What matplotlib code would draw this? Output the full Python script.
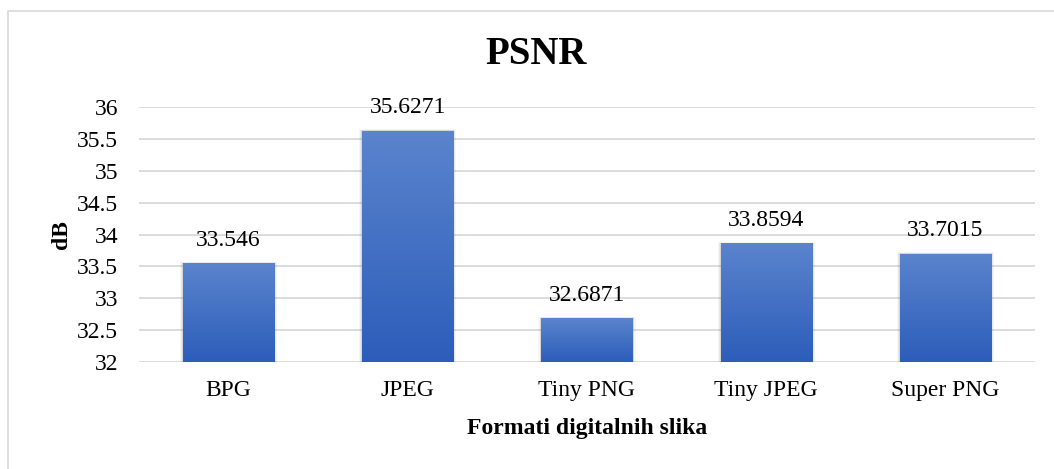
import matplotlib
matplotlib.use("Agg")
import matplotlib.pyplot as plt
import numpy as np
from matplotlib.patches import Rectangle
from matplotlib.colors import LinearSegmentedColormap

categories = ["BPG", "JPEG", "Tiny PNG", "Tiny JPEG", "Super PNG"]
values = [33.546, 35.6271, 32.6871, 33.8594, 33.7015]
value_labels = ["33.546", "35.6271", "32.6871", "33.8594", "33.7015"]
yticks = [32, 32.5, 33, 33.5, 34, 34.5, 35, 35.5, 36]
ytick_labels = ["32", "32.5", "33", "33.5", "34", "34.5", "35", "35.5", "36"]

plt.rcParams['font.family'] = ['Liberation Serif', 'DejaVu Serif']

W, H = 1054, 469
fig = plt.figure(figsize=(W / 100, H / 100), dpi=100)

# chart border (only top and left visible)
fig.patches.append(Rectangle((7.5 / W, -0.1), 1.2, (H - 11.5) / H + 0.1,
                             transform=fig.transFigure, fill=False,
                             edgecolor="#D9D9D9", linewidth=1.2))

ax = fig.add_axes([139 / W, 1 - 362 / H, (1035 - 139) / W, (362 - 107) / H])
ax.set_xlim(-0.5, 4.5)
ax.set_ylim(32, 36)
ax.set_yticks(yticks)
ax.set_yticklabels(ytick_labels, fontsize=17)
ax.set_xticks(range(len(categories)))
ax.set_xticklabels(categories, fontsize=17)
ax.tick_params(axis="both", length=0, colors="black")
ax.tick_params(axis="y", pad=15)
ax.tick_params(axis="x", pad=13)
for s in ax.spines.values():
    s.set_visible(False)
ax.grid(axis="y", color="#D9D9D9", linewidth=1.3)
ax.set_axisbelow(True)

bw = 0.51
grad = np.linspace(0, 1, 256).reshape(-1, 1)
cmap = LinearSegmentedColormap.from_list("g", ["#2C5DBA", "#5B84CD"])

for i, v in enumerate(values):
    # soft shadow around bar
    for k, a in [(0.016, 0.06), (0.010, 0.10), (0.005, 0.14)]:
        ax.add_patch(Rectangle((i - bw / 2 - k, 32), bw + 2 * k, v - 32 + k * 1.5,
                               facecolor="#6F6F6F", edgecolor="none", alpha=a, zorder=2))
    bar = ax.bar(i, v - 32, bottom=32, width=bw, color="#3F6CC4", zorder=3)[0]
    im = ax.imshow(grad, extent=(i - bw / 2, i + bw / 2, 32, v), origin="lower",
                   cmap=cmap, aspect="auto", zorder=4)
    im.set_clip_path(bar)
    ax.annotate(value_labels[i], (i, v), xytext=(0, 9), textcoords="offset points",
                ha="center", va="bottom", fontsize=17, zorder=5)

ax.set_aspect("auto")
ax.set_xlim(-0.5, 4.5)
ax.set_ylim(32, 36)

fig.text(61 / W, 1 - 235 / H, "dB", ha="center", va="center", rotation=90,
         fontsize=17, fontweight="bold")
fig.text(587 / W, 1 - 428 / H, "Formati digitalnih slika", ha="center", va="center",
         fontsize=17, fontweight="bold")
fig.text(536 / W, 1 - 54 / H, "PSNR", ha="center", va="center",
         fontsize=28, fontweight="bold")

fig.savefig("out.png", dpi=100, facecolor="white")
